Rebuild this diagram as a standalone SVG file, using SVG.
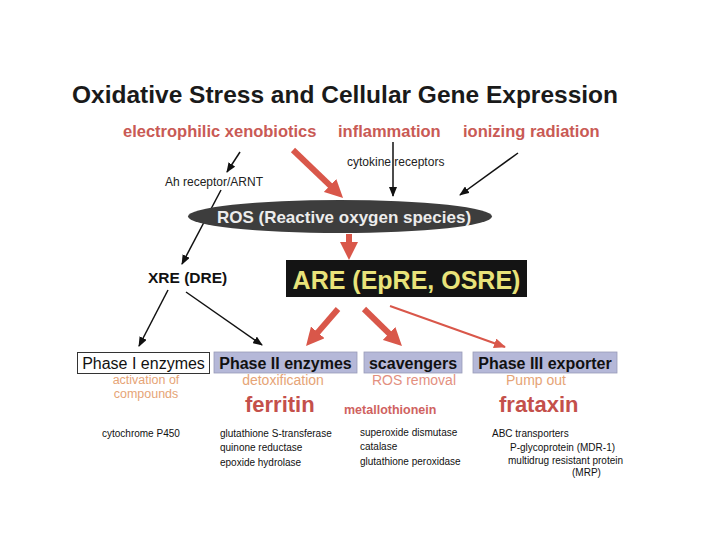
<svg xmlns="http://www.w3.org/2000/svg" width="720" height="540" viewBox="0 0 720 540">
<defs>
<style>
text{font-family:"Liberation Sans",Arial,sans-serif}
.b{font-weight:bold}
.src{font-size:16.5px;font-weight:bold;fill:#c95a55}
.sm{font-size:12px;fill:#222}
.box{fill:#b5b8d8;stroke:#9a9cb8;stroke-width:0.8}
.bl{font-size:16px;fill:#111}
.sub{font-size:14px;fill:#e6a476;text-anchor:middle}
.big{font-size:22px;font-weight:bold;fill:#c4504b}
.lst{font-size:10px;fill:#111}
.ka{stroke:#111;stroke-width:1.5;fill:none}
.ra{stroke:#d9574a;stroke-width:6;fill:none}
.rt{stroke:#d9574a;stroke-width:2;fill:none}
</style>
<marker id="kh" viewBox="0 0 10 8" refX="9" refY="4" markerWidth="10" markerHeight="8" markerUnits="userSpaceOnUse" orient="auto"><path d="M0,0 L10,4 L0,8 z" fill="#111"/></marker>
<marker id="rh" viewBox="0 0 18 18" refX="2" refY="9" markerWidth="18" markerHeight="18" markerUnits="userSpaceOnUse" orient="auto"><path d="M0,0 L18,9 L0,18 z" fill="#d9574a"/></marker>
<marker id="rth" viewBox="0 0 12 10" refX="11" refY="5" markerWidth="12" markerHeight="10" markerUnits="userSpaceOnUse" orient="auto"><path d="M0,0 L12,5 L0,10 z" fill="#d9574a"/></marker>
</defs>
<rect width="720" height="540" fill="#fff"/>

<g id="connectors">
<line class="ka" x1="240" y1="152" x2="227" y2="172" marker-end="url(#kh)"/>
<line class="ra" x1="293" y1="150" x2="331.5" y2="186.9" marker-end="url(#rh)"/>
<line class="ka" x1="393" y1="142" x2="393" y2="196" marker-end="url(#kh)"/>
<line class="ka" x1="518" y1="153" x2="460" y2="195" marker-end="url(#kh)"/>
<line class="ka" x1="221" y1="190" x2="182" y2="264" marker-end="url(#kh)"/>
<line class="ra" x1="349" y1="234" x2="349" y2="244" marker-end="url(#rh)"/>
<line class="ka" x1="168" y1="290" x2="139" y2="346" marker-end="url(#kh)"/>
<line class="ka" x1="186" y1="292" x2="262" y2="345" marker-end="url(#kh)"/>
<line class="ra" x1="338" y1="309" x2="316.5" y2="333.9" marker-end="url(#rh)"/>
<line class="ra" x1="364" y1="309" x2="390.5" y2="334.8" marker-end="url(#rh)"/>
<line class="rt" x1="390" y1="306" x2="505" y2="347" marker-end="url(#rth)"/>
</g>

<g id="title"><text x="72" y="103" class="b" font-size="24.5" fill="#1a1a1a">Oxidative Stress and Cellular Gene Expression</text></g>

<g id="electrophilic"><text x="123" y="137" class="src">electrophilic xenobiotics</text></g>
<g id="inflammation"><text x="338" y="137" class="src">inflammation</text></g>
<g id="ionizing"><text x="463" y="137" class="src">ionizing radiation</text></g>
<g id="cytokine"><text x="347" y="166" class="sm">cytokine receptors</text></g>
<g id="ahr"><text x="165" y="186" class="sm">Ah receptor/ARNT</text></g>

<g id="ros">
<ellipse cx="340" cy="216.5" rx="152" ry="16.5" fill="#3d3d3d"/>
<text x="344" y="223" class="b" font-size="17" fill="#ececec" text-anchor="middle">ROS (Reactive oxygen species)</text>
</g>

<g id="are">
<rect x="286" y="260" width="241" height="37" fill="#141414"/>
<text x="406.5" y="289" class="b" font-size="25" fill="#e9e37a" text-anchor="middle">ARE (EpRE, OSRE)</text>
</g>

<g id="xre"><text x="148" y="283" class="b" font-size="15.5" fill="#111">XRE (DRE)</text></g>

<g id="phase1">
<rect x="77.5" y="352.5" width="132" height="21" fill="#fff" stroke="#333" stroke-width="1"/>
<text x="143.5" y="369" class="bl" text-anchor="middle">Phase I enzymes</text>
<text x="146" y="384" class="sub" font-size="12.5" style="font-size:12.5px">activation of</text>
<text x="146" y="398" class="sub" font-size="12.5" style="font-size:12.5px">compounds</text>
<text x="102" y="437" class="lst">cytochrome P450</text>
</g>

<g id="phase2">
<rect x="214" y="352" width="143" height="21" class="box"/>
<text x="285.5" y="369" class="bl b" text-anchor="middle">Phase II enzymes</text>
<text x="283" y="385" class="sub">detoxification</text>
<text x="245" y="412" class="big">ferritin</text>
<text x="220" y="437" class="lst">glutathione S-transferase</text>
<text x="220" y="451" class="lst">quinone reductase</text>
<text x="220" y="466" class="lst">epoxide hydrolase</text>
</g>

<g id="scavengers">
<rect x="364" y="352" width="98" height="21" class="box"/>
<text x="413" y="369" class="bl b" text-anchor="middle">scavengers</text>
<text x="414" y="385" class="sub" style="fill:#e3907f">ROS removal</text>
<text x="344" y="414" class="b" font-size="12.5" fill="#d0625f">metallothionein</text>
<text x="360" y="436" class="lst">superoxide dismutase</text>
<text x="360" y="450" class="lst">catalase</text>
<text x="360" y="465" class="lst">glutathione peroxidase</text>
</g>

<g id="phase3">
<rect x="473" y="352" width="144" height="21" class="box"/>
<text x="545" y="369" class="bl b" text-anchor="middle">Phase III exporter</text>
<text x="536" y="385" class="sub">Pump out</text>
<text x="499" y="412" class="big">frataxin</text>
<text x="492" y="437" class="lst">ABC transporters</text>
<text x="510" y="451" class="lst">P-glycoprotein (MDR-1)</text>
<text x="508" y="464" class="lst">multidrug resistant protein</text>
<text x="572" y="476" class="lst">(MRP)</text>
</g>
</svg>
